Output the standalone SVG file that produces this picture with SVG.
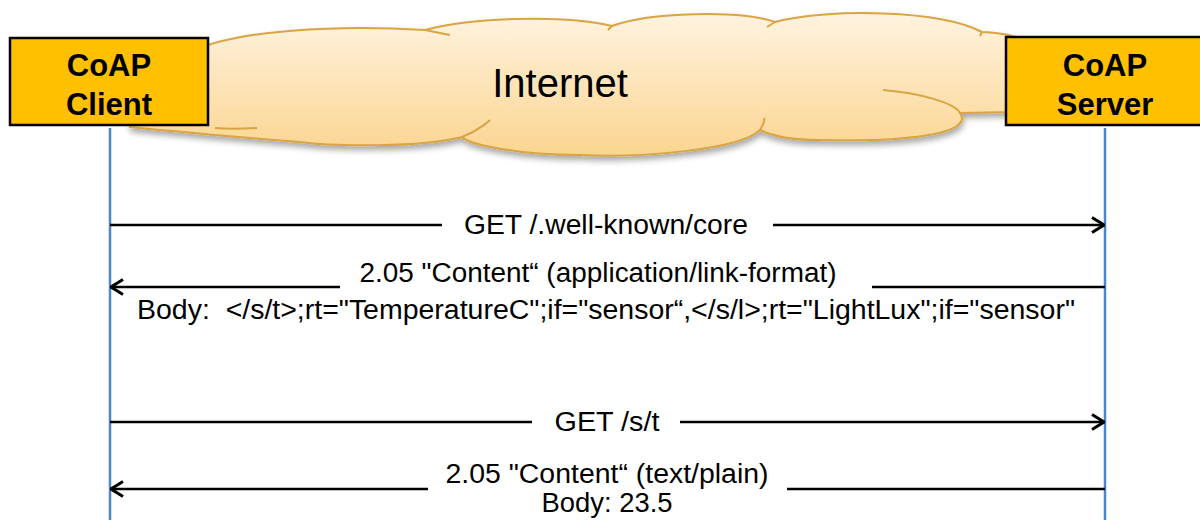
<svg xmlns="http://www.w3.org/2000/svg" width="1200" height="520" viewBox="0 0 1200 520">
  <defs>
    <linearGradient id="cloudFill" x1="0" y1="0" x2="0" y2="1">
      <stop offset="0" stop-color="#FFF3E0"/>
      <stop offset="1" stop-color="#FBD590"/>
    </linearGradient>
    <filter id="shadow" x="-5%" y="-20%" width="110%" height="150%">
      <feGaussianBlur in="SourceAlpha" stdDeviation="3"/>
      <feOffset dx="1" dy="4" result="b"/>
      <feComponentTransfer><feFuncA type="linear" slope="0.35"/></feComponentTransfer>
      <feMerge><feMergeNode/><feMergeNode in="SourceGraphic"/></feMerge>
    </filter>
    <marker id="arrow" viewBox="0 0 14 18" refX="13" refY="9" markerWidth="14" markerHeight="18" markerUnits="userSpaceOnUse" orient="auto">
      <path d="M1,1.5 L13,9 L1,16.5" fill="none" stroke="#000" stroke-width="3" stroke-linejoin="miter"/>
    </marker>
  </defs>
  <style>
    .box { fill: #FFC000; stroke: #000; stroke-width: 2.5; }
    .boxText { font-family: "Liberation Sans", Arial, sans-serif; font-weight: bold; font-size: 31px; fill: #000; text-anchor: middle; }
    .msg { font-family: "Liberation Sans", Arial, sans-serif; font-size: 27px; fill: #000; text-anchor: middle; }
    .life { stroke: #4A86C8; stroke-width: 2.5; fill: none; }
    .line { stroke: #000; stroke-width: 2.5; fill: none; }
    .cloud { fill: url(#cloudFill); stroke: #D9A443; stroke-width: 2; }
    .cloudInner { fill: none; stroke: #D9A443; stroke-width: 2; }
  </style>

  <g id="internet">
    <path class="cloud" filter="url(#shadow)" d="M 200,48 C 240,32 330,24 425,30 C 470,18 560,14 612,26 C 650,12 740,10 775,22 C 830,8 940,10 982,32 C 1000,33 1010,35 1015,37 L 1015,112 L 960,113 C 975,135 900,142 820,140 C 790,140 770,135 760,130 C 740,150 640,158 580,155 C 520,155 470,145 462,137 C 420,148 330,146 300,142 C 250,138 180,132 130,127 L 130,120 Z"/>
    <path class="cloudInner" d="M 425,30 C 435,32 445,34 450,35"/>
    <path class="cloudInner" d="M 612,26 L 608,30"/>
    <path class="cloudInner" d="M 775,22 L 767,27"/>
    <path class="cloudInner" d="M 982,32 L 980,36"/>
    <path class="cloudInner" d="M 883,90 C 920,93 955,103 960,113"/>
    <path class="cloudInner" d="M 462,137 C 480,130 490,120 490,120"/>
    <path class="cloudInner" d="M 760,130 C 763,125 765,120 764,118"/>
    <path class="cloudInner" d="M 257,128 C 240,129 225,129 215,128"/>
    <text x="560" y="97" font-family="Liberation Sans, Arial, sans-serif" font-size="40" text-anchor="middle" fill="#000">Internet</text>
  </g>

  <g id="client">
    <rect class="box" x="10" y="38" width="198" height="87"/>
    <text class="boxText" x="109" y="76">CoAP</text>
    <text class="boxText" x="109" y="115">Client</text>
  </g>

  <g id="server">
    <rect class="box" x="1006" y="37" width="200" height="88"/>
    <text class="boxText" x="1105" y="76">CoAP</text>
    <text class="boxText" x="1105" y="115">Server</text>
  </g>

  <g id="connectors">
    <line class="life" x1="110" y1="128" x2="110" y2="520"/>
    <line class="life" x1="1105" y1="128" x2="1105" y2="520"/>

    <line class="line" x1="110" y1="225" x2="442" y2="225"/>
    <line class="line" x1="773" y1="225" x2="1104" y2="225" marker-end="url(#arrow)"/>
    <text class="msg" x="606" y="234" textLength="284" lengthAdjust="spacingAndGlyphs">GET /.well-known/core</text>

    <line class="line" x1="1105" y1="287" x2="872" y2="287"/>
    <line class="line" x1="340" y1="287" x2="111" y2="287" marker-end="url(#arrow)"/>
    <text class="msg" x="598" y="282" textLength="477" lengthAdjust="spacingAndGlyphs">2.05 "Content“ (application/link-format)</text>
    <text class="msg" x="606" y="319" textLength="938" lengthAdjust="spacingAndGlyphs">Body:&#160; &lt;/s/t&gt;;rt="TemperatureC";if="sensor“,&lt;/s/l&gt;;rt="LightLux";if="sensor"</text>

    <line class="line" x1="110" y1="422" x2="532" y2="422"/>
    <line class="line" x1="680" y1="422" x2="1104" y2="422" marker-end="url(#arrow)"/>
    <text class="msg" x="607" y="431" textLength="105" lengthAdjust="spacingAndGlyphs">GET /s/t</text>

    <line class="line" x1="1105" y1="489" x2="787" y2="489"/>
    <line class="line" x1="428" y1="489" x2="111" y2="489" marker-end="url(#arrow)"/>
    <text class="msg" x="607" y="483" textLength="323" lengthAdjust="spacingAndGlyphs">2.05 "Content“ (text/plain)</text>
    <text class="msg" x="607" y="512" textLength="131" lengthAdjust="spacingAndGlyphs">Body: 23.5</text>
  </g>
</svg>
